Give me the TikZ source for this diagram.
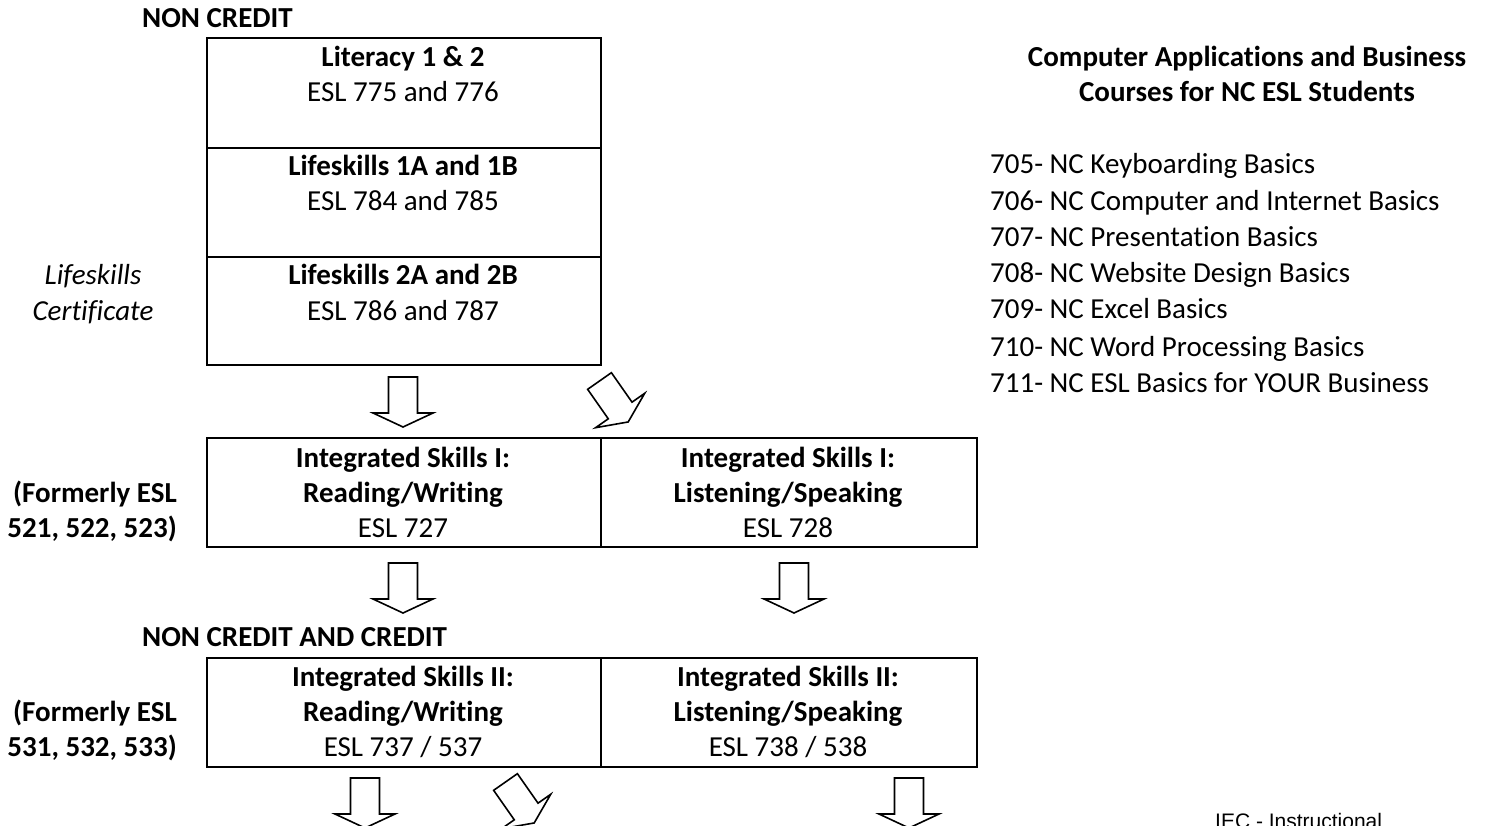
\documentclass[tikz,border=0pt]{standalone}
\usepackage{fontspec}
\setmainfont{Carlito}[RawFeature={-liga;-clig;-calt;-dlig}]
\newfontfamily\notefont{Liberation Sans}
\begin{document}
\begin{tikzpicture}[x=1pt,y=-1pt,
  cell/.style={draw, line width=2.4pt, anchor=north west, inner sep=0pt},
  rm/.style={font=\fontsize{29}{35}\selectfont, anchor=base, inner sep=0pt},
  hd/.style={font=\fontsize{29}{35}\selectfont\bfseries, anchor=base, inner sep=0pt},
  it/.style={font=\fontsize{29}{35}\selectfont\itshape, anchor=base, inner sep=0pt},
  listitem/.style={rm, anchor=base west},
  blockarrow/.pic={
    \draw[line width=1.6pt, line join=miter]
      (-14.5,0) -- (14.5,0) -- (14.5,36) -- (30,36) -- (0,50)
      -- (-30,36) -- (-14.5,36) -- cycle;
  }
]
\useasboundingbox (0,0) rectangle (1491,826);

% ---------- non credit block ----------
\node[hd, anchor=base west] (nc) at (142,28) {NON CREDIT};

\node[cell, minimum width=394pt, minimum height=110pt] (lit) at (206,37) {};
\node[cell, minimum width=394pt, minimum height=109pt] (lifeA) at (206,147) {};
\node[cell, minimum width=394pt, minimum height=108pt] (lifeB) at (206,256) {};

\node[hd] (litT) at (403,67) {Literacy 1 \& 2};
\node[rm] (litC) at (403,102) {ESL 775 and 776};
\node[hd] (lifeAT) at (403,176) {Lifeskills 1A and 1B};
\node[rm] (lifeAC) at (403,211) {ESL 784 and 785};
\node[hd] (lifeBT) at (403,285) {Lifeskills 2A and 2B};
\node[rm] (lifeBC) at (403,320) {ESL 786 and 787};

\node[it] (cert1) at (93,285) {Lifeskills};
\node[it] (cert2) at (93,320) {Certificate};

% arrows into level I
\pic (arA) at (403,377) {blockarrow};
\pic[rotate=35] (arB) at (599.5,381) {blockarrow};

% ---------- integrated skills I ----------
\node[cell, minimum width=394pt, minimum height=109pt] (isRW) at (206,437) {};
\node[cell, minimum width=376pt, minimum height=109pt] (isLS) at (600,437) {};

\node[hd] (isRW1) at (403,467) {Integrated Skills I:};
\node[hd] (isRW2) at (403,502) {Reading/Writing};
\node[rm] (isRW3) at (403,537) {ESL 727};
\node[hd] (isLS1) at (788,467) {Integrated Skills I:};
\node[hd] (isLS2) at (788,502) {Listening/Speaking};
\node[rm] (isLS3) at (788,537) {ESL 728};

\node[hd, anchor=base east] (fmA1) at (177,502) {(Formerly ESL};
\node[hd, anchor=base east] (fmA2) at (177,537) {521, 522, 523)};

% arrows into level II
\pic (arC) at (403,563) {blockarrow};
\pic (arD) at (794,563) {blockarrow};

% ---------- integrated skills II ----------
\node[hd, anchor=base west] (ncc) at (142,646) {NON CREDIT AND CREDIT};

\node[cell, minimum width=394pt, minimum height=109pt] (iiRW) at (206,657) {};
\node[cell, minimum width=376pt, minimum height=109pt] (iiLS) at (600,657) {};

\node[hd] (iiRW1) at (403,686) {Integrated Skills II:};
\node[hd] (iiRW2) at (403,721) {Reading/Writing};
\node[rm] (iiRW3) at (403,756) {ESL 737 / 537};
\node[hd] (iiLS1) at (788,686) {Integrated Skills II:};
\node[hd] (iiLS2) at (788,721) {Listening/Speaking};
\node[rm] (iiLS3) at (788,756) {ESL 738 / 538};

\node[hd, anchor=base east] (fmB1) at (177,721) {(Formerly ESL};
\node[hd, anchor=base east] (fmB2) at (177,756) {531, 532, 533)};

% arrows out of level II
\pic (arE) at (365,778) {blockarrow};
\pic[rotate=35] (arF) at (505.5,782) {blockarrow};
\pic (arG) at (909,778) {blockarrow};

% ---------- computer applications list ----------
\node[hd] (caT1) at (1247,67) {Computer Applications and Business};
\node[hd] (caT2) at (1247,102) {Courses for NC ESL Students};

\node[listitem] (c705) at (990,174) {705- NC Keyboarding Basics};
\node[listitem] (c706) at (990,211) {706- NC Computer and Internet Basics};
\node[listitem] (c707) at (990,247) {707- NC Presentation Basics};
\node[listitem] (c708) at (990,283) {708- NC Website Design Basics};
\node[listitem] (c709) at (990,319) {709- NC Excel Basics};
\node[listitem] (c710) at (990,356) {710- NC Word Processing Basics};
\node[listitem] (c711) at (990,392) {711- NC ESL Basics for YOUR Business};

% footer note
\node[font=\notefont\fontsize{21}{25}\selectfont, anchor=base west, inner sep=0pt] (iec) at (1215,828) {IEC - Instructional};
\end{tikzpicture}
\end{document}
